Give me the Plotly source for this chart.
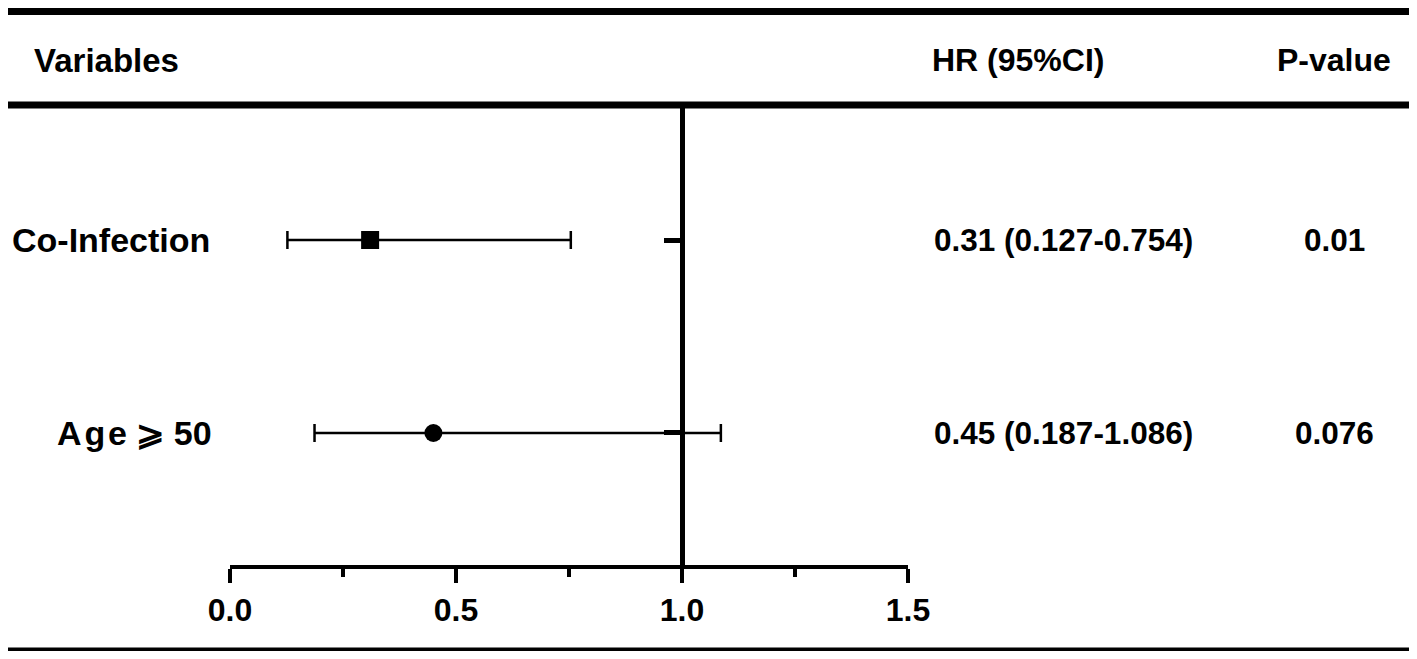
import plotly.graph_objects as go

# Daten aus der Abbildung
variables = ["Co-Infection", "A\u200ag\u200ae \u2a7e 50"]
hr = [0.31, 0.45]
ci_low = [0.127, 0.187]
ci_high = [0.754, 1.086]
p_values = ["0.01", "0.076"]
rows = [2, 1]

# Seite hat 8px body-margin -> Figur verschieben
OFF = 8
W, H = 1417 - 2 * OFF, 659 - 2 * OFF
L, R, T, B = 230, 908, 108, 565   # Plotbereich in Seitenpixeln
FONT = "Liberation Sans, Arial, sans-serif"


def px_x(x):
    return (x - L) / (R - L)


def px_y(y):
    return (B - y) / (B - T)


fig = go.Figure()
symbols = ["square", "circle"]
for i in range(len(hr)):
    fig.add_trace(go.Scatter(
        x=[hr[i]], y=[rows[i]], mode="markers",
        marker=dict(symbol=symbols[i], size=18, color="black"),
        error_x=dict(type="data", symmetric=False,
                     array=[ci_high[i] - hr[i]], arrayminus=[hr[i] - ci_low[i]],
                     color="black", thickness=2.5, width=9),
        showlegend=False,
    ))

# Linien oben / unten
for y, x0 in [(11.5, 0), (105, 7), (651, 0)]:
    fig.add_shape(type="line", xref="paper", yref="paper",
                  x0=px_x(x0), x1=px_x(1411), y0=px_y(y), y1=px_y(y),
                  line=dict(color="black", width=7))


def bold(size):
    return dict(family=FONT, size=size, color="black", weight="bold")


def text(s, x, y, size, anchor="left", yref="paper"):
    fig.add_annotation(text=s, xref="paper", x=px_x(x), yref=yref,
                       y=y, xanchor=anchor, yanchor="middle",
                       showarrow=False, font=bold(size))


text("Variables", 32, px_y(60), 33)
text("HR (95%CI)", 930, px_y(60), 32)
text("P-value", 1334, px_y(60), 32, "center")

for i in range(len(hr)):
    lx = 10 if i == 0 else 55
    text(variables[i], lx, rows[i], 34, yref="y")
    text(f"{hr[i]:.2f} ({ci_low[i]:.3f}-{ci_high[i]:.3f})", 932, rows[i], 31.5, yref="y")
    text(p_values[i], 1334, rows[i], 31.5, "center", yref="y")

fig.update_layout(
    width=W, height=H,
    margin=dict(l=L - OFF, r=W + OFF - R, t=T - OFF, b=H + OFF - B),
    plot_bgcolor="white", paper_bgcolor="white",
    xaxis=dict(range=[0, 1.5], tickvals=[0, 0.5, 1.0, 1.5],
               ticktext=["0.0", "0.5", "1.0", "1.5"],
               showgrid=False, zeroline=False,
               showline=True, linewidth=3.5, linecolor="black",
               ticks="outside", ticklen=14, tickwidth=3.5, tickcolor="black",
               ticklabelstandoff=0,
               minor=dict(tick0=0, dtick=0.25, ticks="outside", ticklen=8,
                          tickwidth=3.5, tickcolor="black"),
               tickfont=bold(32)),
    yaxis=dict(range=[0.316, 2.684], anchor="free", position=1 / 1.5,
               showgrid=False, zeroline=False,
               showline=True, linewidth=4.5, linecolor="black",
               ticks="outside", tickvals=rows, ticklen=16, tickwidth=4.5,
               tickcolor="black", showticklabels=False),
)

fig.write_html("out.html")
